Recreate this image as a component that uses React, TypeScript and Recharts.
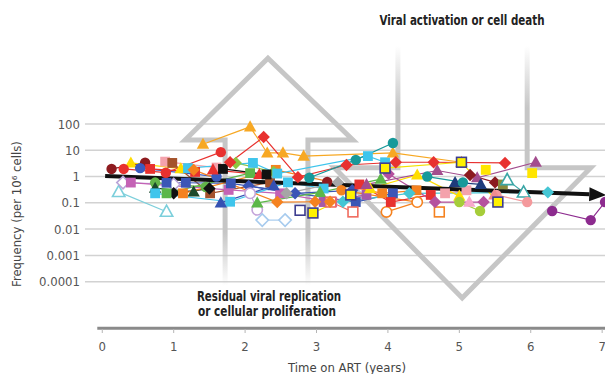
import React from "react";
import { ComposedChart, Line, XAxis, YAxis, ReferenceLine, Label } from "recharts";

const FONT = "'Liberation Sans Narrow', 'DejaVu Sans Condensed', sans-serif";

const yearTicks = [0, 1, 2, 3, 4, 5, 6, 7];
const freqTicks = [0.0001, 0.001, 0.01, 0.1, 1, 10, 100];

// [years on ART, frequency per 10^6 cells]
const pDkRedCircle = [[0.13, 1.95], [0.6, 3.4]];
const pDkRedCircle2 = [[3.15, 0.63]];
const pRedCircle = [[0.3, 1.95], [0.89, 1.4], [1.66, 8.5]];
const pYellowTriLeft = [[0.4, 3.3], [1.1, 2.0]];
const pBlueCircle = [[0.53, 2.1], [1.6, 1.0]];
const pRedSq = [[0.67, 1.95], [1.3, 1.5]];
const pRedSq2 = [[3.6, 0.5], [4.04, 0.107], [4.6, 0.2]];
const pPinkSq = [[0.88, 3.7], [1.6, 2.2]];
const pPinkSq2 = [[4.8, 0.23], [5.1, 0.3]];
const pBrownSq = [[0.98, 3.3], [1.51, 0.23], [2.35, 0.6]];
const pCyanSq = [[1.2, 2.1], [2.11, 3.3], [2.45, 1.3], [3.72, 6], [3.96, 3.5]];
const pCyanSq2 = [[0.74, 0.23], [1.79, 0.11], [2.6, 0.6], [3.1, 0.35]];
const pOrangeDiamond = [[1.28, 1.8], [2.45, 0.107], [2.98, 0.11], [3.19, 0.11]];
const pRedTri = [[1.55, 1.8], [2.2, 1.2]];
const pBlackSq = [[1.69, 1.95], [2.3, 1.2]];
const pLavDiamond = [[0.29, 0.59], [1.0, 0.5]];
const pMagentaSq = [[0.4, 0.59], [1.77, 0.31], [2.49, 0.23], [3.22, 0.107]];
const pGreenCircle = [[0.74, 0.59], [1.45, 0.4]];
const pBlueSq = [[0.9, 0.58], [1.17, 0.58], [1.8, 0.55], [3.55, 0.107], [4.07, 0.23]];
const pDkGreenTri = [[0.74, 0.36], [1.28, 0.26]];
const pBlackDiamond = [[1.0, 0.23], [1.5, 0.35]];
const pOrangeSq = [[1.13, 0.23], [2.43, 1.8], [3.92, 0.23], [4.4, 0.3]];
const pBlueTri = [[1.66, 0.1], [2.4, 0.45]];
const pCyanHollowTri = [[0.23, 0.26], [0.9, 0.046]];
const pOrangeTri = [[1.41, 17], [2.07, 78], [2.31, 7.9], [2.53, 8], [2.82, 6], [4.07, 7.9], [5.03, 3.5]];
const pRedDiamond = [[1.79, 3.5], [2.26, 32], [2.74, 0.95], [3.42, 2.75], [4.11, 3.5], [4.64, 3.5], [5.64, 3.3]];
const pGreenDiamond = [[1.87, 3.3], [2.4, 1.5]];
const pGreenSq = [[0.9, 0.23], [2.07, 1.35]];
const pBlueDiamond = [[2.05, 0.44], [2.7, 0.23], [3.5, 0.3]];
const pLavCircle = [[2.07, 0.23], [2.17, 0.054]];
const pGreenTri = [[2.17, 0.1], [3.05, 0.25], [3.9, 0.8]];
const pLtBlueDiamond = [[2.24, 0.022], [2.56, 0.022]];
const pGrayDiamond = [[2.58, 0.23], [3.3, 0.6]];
const pNavyHollowSq = [[2.77, 0.052]];
const pYellowFramed2 = [[2.95, 0.041], [3.48, 0.2]];
const pTealCircle = [[2.9, 0.9], [3.55, 4.3], [4.07, 19]];
const pPurpleSq = [[3.1, 0.107], [3.7, 0.2]];
const pCyanDiamond = [[3.37, 0.11], [4.3, 0.23], [6.24, 0.25]];
const pSalmonHollowSq = [[3.2, 0.107], [3.51, 0.045]];
const pOrangeCircle = [[3.35, 0.3], [4.41, 0.107]];
const pOrangeHollowCircle = [[3.98, 0.045], [4.41, 0.107]];
const pOrangeHollowSq = [[4.72, 0.045]];
const pYellowTri = [[3.75, 0.35], [4.41, 1.15], [5.0, 0.18]];
const pMagDiamond = [[4.01, 1.26], [4.66, 0.107], [5.34, 0.107]];
const pMauveTri = [[3.7, 0.5], [4.69, 1.7], [5.25, 0.9], [6.07, 3.5]];
const pDkRedDiamond = [[5.15, 1.15], [5.5, 0.6]];
const pNavyTri = [[4.94, 0.6], [5.3, 0.5]];
const pTealCircle2 = [[4.55, 1.0], [5.05, 0.6]];
const pYellowFramed1 = [[3.96, 2.1], [5.03, 3.5], [5.54, 0.107]];
const pYellowSqA = [[5.37, 1.8]];
const pYellowSqB = [[6.02, 1.35]];
const pOliveSq = [[5.61, 0.5]];
const pTealHollowTri = [[5.67, 0.74], [5.9, 0.25]];
const pSalmonCircle = [[5.52, 0.2], [5.95, 0.107]];
const pSalmonTri = [[5.49, 0.2]];
const pLimeCircle = [[5.0, 0.107], [5.29, 0.049]];
const pPinkTri = [[5.14, 0.107]];
const pPurpleCircle = [[6.3, 0.049], [6.84, 0.022], [7.04, 0.107]];

// overall decay and the two schematic arrows, in axis units
const trendPts = [[0.04, 1.05], [6.82, 0.21]];
const upArrowPts = [[1.72, 7e-5], [1.72, 24.5], [1.16, 24.5], [2.32, 32000], [3.51, 24.5], [2.88, 24.5], [2.88, 7e-5]];
const downArrowPts = [[4.14, 1.0e5], [4.14, 2.15], [3.25, 2.15], [5.04, 2.4e-5], [6.84, 2.15], [5.95, 2.15], [5.95, 1.0e5]];
const axisBase = 1.7e-6;

type Shape = "circle" | "square" | "diamond" | "triangle";
interface Style {
  id: string;
  pts: number[][];
  color: string;
  shape: Shape;
  hollow?: boolean;
  frame?: string;
}

const series: Style[] = [
  { id: "a1", pts: pDkRedCircle, color: "#8e1b1f", shape: "circle" },
  { id: "a2", pts: pDkRedCircle2, color: "#8e1b1f", shape: "circle" },
  { id: "a3", pts: pCyanHollowTri, color: "#7ccfdb", shape: "triangle", hollow: true },
  { id: "a4", pts: pLavDiamond, color: "#b9a4d8", shape: "diamond", hollow: true },
  { id: "a5", pts: pYellowTriLeft, color: "#ffdd00", shape: "triangle" },
  { id: "a6", pts: pBlueCircle, color: "#3b5bc0", shape: "circle" },
  { id: "a7", pts: pRedSq, color: "#e8312f", shape: "square" },
  { id: "a8", pts: pPinkSq, color: "#f4a2ac", shape: "square" },
  { id: "a9", pts: pBrownSq, color: "#a4532c", shape: "square" },
  { id: "b1", pts: pMagentaSq, color: "#c462b5", shape: "square" },
  { id: "b2", pts: pGreenCircle, color: "#62b449", shape: "circle" },
  { id: "b3", pts: pBlueSq, color: "#3b56b6", shape: "square" },
  { id: "b4", pts: pDkGreenTri, color: "#1b4a2b", shape: "triangle" },
  { id: "b5", pts: pCyanSq2, color: "#3fc5ec", shape: "square" },
  { id: "b6", pts: pBlackDiamond, color: "#111111", shape: "diamond" },
  { id: "b7", pts: pOrangeSq, color: "#f5821f", shape: "square" },
  { id: "b8", pts: pBlueTri, color: "#3451b2", shape: "triangle" },
  { id: "b9", pts: pGreenSq, color: "#5cb749", shape: "square" },
  { id: "c1", pts: pBlueDiamond, color: "#3a55b6", shape: "diamond" },
  { id: "c2", pts: pLavCircle, color: "#c3a4da", shape: "circle", hollow: true },
  { id: "c3", pts: pGreenTri, color: "#5cb749", shape: "triangle" },
  { id: "c4", pts: pLtBlueDiamond, color: "#a7cbee", shape: "diamond", hollow: true },
  { id: "c5", pts: pGrayDiamond, color: "#a6a6a6", shape: "diamond" },
  { id: "c6", pts: pPurpleSq, color: "#a65aa8", shape: "square" },
  { id: "c7", pts: pSalmonHollowSq, color: "#f06b5e", shape: "square", hollow: true },
  { id: "c8", pts: pOrangeCircle, color: "#f5821f", shape: "circle" },
  { id: "c9", pts: pOrangeHollowCircle, color: "#f5821f", shape: "circle", hollow: true },
  { id: "d1", pts: pOrangeHollowSq, color: "#f5821f", shape: "square", hollow: true },
  { id: "d2", pts: pRedSq2, color: "#e8312f", shape: "square" },
  { id: "d3", pts: pCyanDiamond, color: "#45c6d4", shape: "diamond" },
  { id: "d4", pts: pPinkSq2, color: "#f4a2ac", shape: "square" },
  { id: "d5", pts: pYellowTri, color: "#ffdd00", shape: "triangle" },
  { id: "d6", pts: pMagDiamond, color: "#b5519e", shape: "diamond" },
  { id: "d7", pts: pMauveTri, color: "#a34d8e", shape: "triangle" },
  { id: "d8", pts: pDkRedDiamond, color: "#8b1a1f", shape: "diamond" },
  { id: "d9", pts: pNavyTri, color: "#1e3b7b", shape: "triangle" },
  { id: "e1", pts: pTealCircle2, color: "#17999a", shape: "circle" },
  { id: "e2", pts: pOliveSq, color: "#8a8a3d", shape: "square" },
  { id: "e3", pts: pTealHollowTri, color: "#3aa6a6", shape: "triangle", hollow: true },
  { id: "e4", pts: pSalmonCircle, color: "#f4999c", shape: "circle" },
  { id: "e5", pts: pSalmonTri, color: "#f08b8f", shape: "triangle" },
  { id: "e6", pts: pLimeCircle, color: "#a6cd3a", shape: "circle" },
  { id: "e7", pts: pPinkTri, color: "#f7a9cc", shape: "triangle" },
  { id: "e8", pts: pPurpleCircle, color: "#8d2b8f", shape: "circle" },
  { id: "e9", pts: pYellowSqA, color: "#ffe500", shape: "square" },
  { id: "f1", pts: pYellowSqB, color: "#ffe500", shape: "square" },
  { id: "f3", pts: pGreenDiamond, color: "#8dc63f", shape: "diamond" },
  { id: "f4", pts: pRedTri, color: "#e8312f", shape: "triangle" },
  { id: "f5", pts: pCyanSq, color: "#3fc5ec", shape: "square" },
  { id: "f6", pts: pBlackSq, color: "#111111", shape: "square" },
  { id: "f7", pts: pRedCircle, color: "#e8312f", shape: "circle" },
  { id: "f8", pts: pOrangeTri, color: "#f7a823", shape: "triangle" },
  { id: "f9", pts: pRedDiamond, color: "#e8312f", shape: "diamond" },
  { id: "g0", pts: pOrangeDiamond, color: "#f5821f", shape: "diamond" },
  { id: "g1", pts: pTealCircle, color: "#17999a", shape: "circle" },
  { id: "g2", pts: pNavyHollowSq, color: "#3d3d8f", shape: "square", hollow: true },
  { id: "g3", pts: pYellowFramed2, color: "#fff200", shape: "square", frame: "#3d3d8f" },
  { id: "g4", pts: pYellowFramed1, color: "#fff200", shape: "square", frame: "#3d3d8f" },
];

const toRows = (pts: number[][]) => pts.map(([t, v]) => ({ t, v }));

function Marker({ cx, cy, color, shape, hollow, frame }: any) {
  if (cx == null || cy == null) return null;
  const fill = hollow ? "#ffffff" : color;
  const stroke = frame ?? (hollow ? color : "none");
  const sw = frame || hollow ? 1.6 : 0;
  if (shape === "circle") return <circle cx={cx} cy={cy} r={5.2} fill={fill} stroke={stroke} strokeWidth={sw} />;
  if (shape === "square")
    return <rect x={cx - 4.9} y={cy - 4.9} width={9.8} height={9.8} fill={fill} stroke={stroke} strokeWidth={sw} />;
  if (shape === "diamond")
    return (
      <polygon
        points={`${cx},${cy - 6.2} ${cx + 6.2},${cy} ${cx},${cy + 6.2} ${cx - 6.2},${cy}`}
        fill={fill}
        stroke={stroke}
        strokeWidth={sw}
      />
    );
  return (
    <polygon
      points={`${cx},${cy - 6.5} ${cx + 6.2},${cy + 4.6} ${cx - 6.2},${cy + 4.6}`}
      fill={fill}
      stroke={stroke}
      strokeWidth={sw}
    />
  );
}

function ArrowHead(p: any) {
  if (p.index !== 1 || p.cx == null) return <g key={`ah-${p.index}`} />;
  let a = Math.atan2(19, 500);
  if (p.points && p.points.length > 1) {
    const [s, e] = p.points;
    a = Math.atan2(e.y - s.y, e.x - s.x);
  }
  const c = Math.cos(a);
  const s = Math.sin(a);
  const tip = [p.cx + 17 * c, p.cy + 17 * s];
  const l = [p.cx + 7 * s, p.cy - 7 * c];
  const r = [p.cx - 7 * s, p.cy + 7 * c];
  return <polygon key={`ah-${p.index}`} points={`${tip} ${l} ${r}`} fill="#111" />;
}

const textStyle = { fontFamily: FONT };

export default function App() {
  return (
    <div style={{ position: "absolute", left: 0, top: 0, width: 605, height: 374, overflow: "hidden", background: "#fff" }}>
      <ComposedChart width={625} height={374} margin={{ top: -6, right: 0, bottom: 0, left: 0 }}>
        <defs>
          <linearGradient id="upFade" gradientUnits="userSpaceOnUse" x1="0" y1="232" x2="0" y2="286">
            <stop offset="0" stopColor="#c6c6c6" stopOpacity={1} />
            <stop offset="1" stopColor="#c6c6c6" stopOpacity={0} />
          </linearGradient>
          <linearGradient id="downFade" gradientUnits="userSpaceOnUse" x1="0" y1="46" x2="0" y2="108">
            <stop offset="0" stopColor="#c6c6c6" stopOpacity={0} />
            <stop offset="1" stopColor="#c6c6c6" stopOpacity={1} />
          </linearGradient>
        </defs>
        <XAxis
          dataKey="t"
          type="number"
          domain={[-0.242, 7.32]}
          allowDataOverflow
          ticks={yearTicks}
          axisLine={false}
          tickLine={{ stroke: "#b5b5b5" }}
          tickSize={4}
          tickMargin={9}
          height={45}
          tick={{ fill: "#555", fontSize: 13, fontFamily: FONT }}
        >
          <Label
            value="Time on ART (years)"
            position="insideBottom"
            offset={2}
            dx={-8}
            style={{ fill: "#444", fontSize: 13, fontFamily: FONT }}
          />
        </XAxis>
        <YAxis
          type="number"
          scale="log"
          domain={[1.58e-6, 8.85e6]}
          allowDataOverflow
          ticks={freqTicks}
          tickFormatter={(v: number) => String(v)}
          axisLine={false}
          tickLine={false}
          tickSize={0}
          tickMargin={5}
          width={85}
          tick={{ fill: "#555", fontSize: 13, fontFamily: FONT }}
        >
          <Label
            content={() => (
              <text
                x={16}
                y={214}
                transform="rotate(-90 16 214)"
                textAnchor="middle"
                dominantBaseline="central"
                fill="#444"
                fontSize={13}
                style={textStyle}
              >
                Frequency (per 10⁶ cells)
              </text>
            )}
          />
        </YAxis>

        {freqTicks.map((v) => (
          <ReferenceLine key={`g-${v}`} y={v} stroke="#d2d2d2" strokeWidth={1.5} />
        ))}
        <ReferenceLine
          segment={[
            { x: -0.07, y: axisBase },
            { x: 7.32, y: axisBase },
          ]}
          stroke="#8a8a8a"
          strokeWidth={3}
        />

        <Line
          data={toRows(upArrowPts)}
          dataKey="v"
          type="linear"
          stroke="url(#upFade) #c6c6c6"
          strokeWidth={5}
          strokeLinejoin="miter"
          dot={false}
          activeDot={false}
          legendType="none"
          isAnimationActive={false}
        />
        <Line
          data={toRows(downArrowPts)}
          dataKey="v"
          type="linear"
          stroke="url(#downFade) #c6c6c6"
          strokeWidth={5}
          strokeLinejoin="miter"
          dot={false}
          activeDot={false}
          legendType="none"
          isAnimationActive={false}
        />

        {series.map((s) => (
          <Line
            key={s.id}
            data={toRows(s.pts)}
            dataKey="v"
            type="linear"
            stroke={s.frame ? "#f2e200" : s.color}
            strokeWidth={1.2}
            dot={(p: any) => <Marker key={`${s.id}-${p.index}`} cx={p.cx} cy={p.cy} {...s} />}
            activeDot={false}
            legendType="none"
            isAnimationActive={false}
          />
        ))}

        <Line
          data={toRows(trendPts)}
          dataKey="v"
          type="linear"
          stroke="#111"
          strokeWidth={4}
          dot={ArrowHead}
          activeDot={false}
          legendType="none"
          isAnimationActive={false}
        />

        <text x={462} y={20} textAnchor="middle" dominantBaseline="central" fontWeight="bold" fontSize={13.5} fill="#222" style={textStyle} textLength={165} lengthAdjust="spacingAndGlyphs">
          Viral activation or cell death
        </text>
        <text x={269} y={296} textAnchor="middle" dominantBaseline="central" fontWeight="bold" fontSize={13.5} fill="#222" style={textStyle} textLength={144} lengthAdjust="spacingAndGlyphs">
          Residual viral replication
        </text>
        <text x={267} y={311} textAnchor="middle" dominantBaseline="central" fontWeight="bold" fontSize={13.5} fill="#222" style={textStyle} textLength={138} lengthAdjust="spacingAndGlyphs">
          or cellular proliferation
        </text>
      </ComposedChart>
    </div>
  );
}
